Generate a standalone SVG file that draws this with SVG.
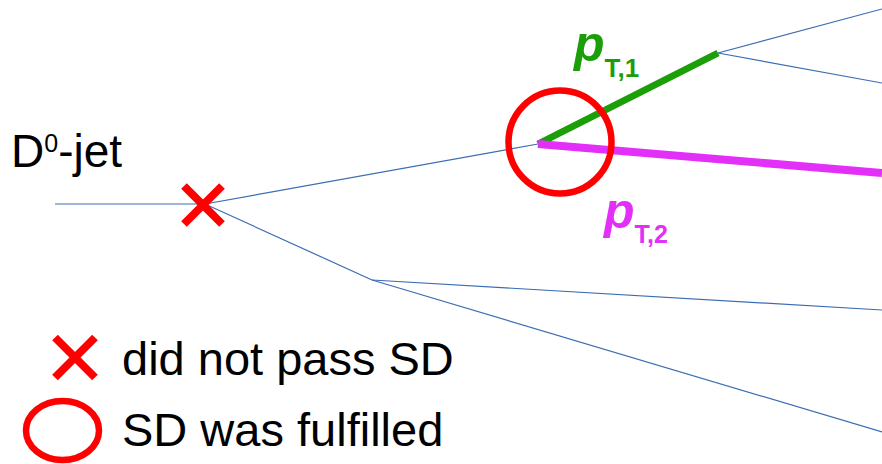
<svg xmlns="http://www.w3.org/2000/svg" width="882" height="464" viewBox="0 0 882 464">
  <style>
    .branch { stroke: #3b6db3; stroke-width: 1.2; fill: none; }
    .cross { stroke: #ff0000; stroke-width: 8; stroke-linecap: butt; }
    .ring { fill: none; stroke: #ff0000; stroke-width: 6.5; }
    .label { font-family: "Liberation Sans", Arial, sans-serif; fill: #000000; }
    .pt { font-family: "Liberation Sans", Arial, sans-serif; font-weight: bold; }
  </style>

  <!-- jet clustering tree -->
  <g id="connectors">
    <line class="branch" x1="55" y1="204" x2="205" y2="204"/>
    <line class="branch" x1="205" y1="204" x2="538" y2="144"/>
    <line class="branch" x1="205" y1="204" x2="372" y2="280"/>
    <line class="branch" x1="372" y1="280" x2="882" y2="310"/>
    <line class="branch" x1="372" y1="280" x2="882" y2="432"/>
    <line class="branch" x1="718" y1="53" x2="882" y2="9"/>
    <line class="branch" x1="718" y1="53" x2="882" y2="83"/>
    <!-- the two prongs of the accepted splitting -->
    <line x1="538" y1="144" x2="718" y2="53" stroke="#1c9e08" stroke-width="7"/>
    <line x1="538" y1="144" x2="882" y2="173" stroke="#e330f8" stroke-width="8"/>
  </g>

  <g id="jet-label">
    <text class="label" x="11" y="167" font-size="46">D<tspan font-size="25" dy="-15">0</tspan><tspan dy="15">-jet</tspan></text>
  </g>

  <g id="rejected-split">
    <line class="cross" x1="184" y1="186" x2="222" y2="224"/>
    <line class="cross" x1="222" y1="186" x2="184" y2="224"/>
  </g>

  <g id="accepted-split">
    <circle class="ring" cx="560" cy="142" r="51.5"/>
  </g>

  <g id="pt1-label">
    <text class="pt" x="574" y="61" fill="#1c9e08"><tspan font-size="50" font-style="italic">p</tspan><tspan font-size="26" dy="16">T,1</tspan></text>
  </g>

  <g id="pt2-label">
    <text class="pt" x="604" y="228" fill="#e330f8"><tspan font-size="50" font-style="italic">p</tspan><tspan font-size="25" dy="15">T,2</tspan></text>
  </g>

  <g id="legend">
    <line class="cross" x1="55" y1="337.5" x2="95" y2="377.5"/>
    <line class="cross" x1="95" y1="337.5" x2="55" y2="377.5"/>
    <text class="label" x="122" y="375" font-size="47">did not pass SD</text>
    <ellipse class="ring" cx="62.5" cy="430.5" rx="36.5" ry="29.5"/>
    <text class="label" x="122" y="446" font-size="47">SD was fulfilled</text>
  </g>
</svg>
